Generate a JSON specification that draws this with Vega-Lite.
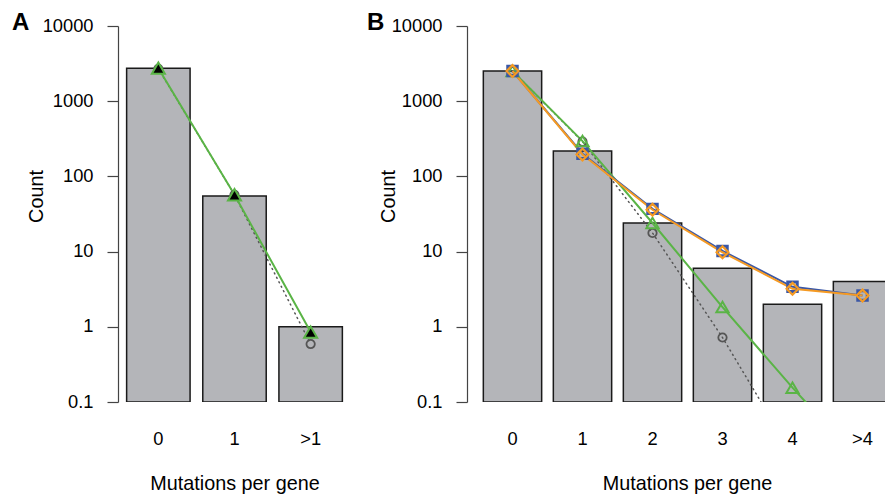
{
  "$schema": "https://vega.github.io/schema/vega-lite/v6.json",
  "background": "white",
  "padding": {"left": 12, "top": 11, "right": 0, "bottom": 0},
  "spacing": 16,
  "config": {
    "view": {"stroke": null},
    "font": "Liberation Sans",
    "axis": {"grid": false, "labelColor": "#000", "titleColor": "#000", "titleFontWeight": "normal", "labelFontSize": 18.3, "titleFontSize": 19.8, "labelFont": "Liberation Sans", "titleFont": "Liberation Sans"},
    "axisY": {"tickSize": 11, "domainColor": "#444", "tickColor": "#444", "domainWidth": 1.2, "tickWidth": 1.2, "labelPadding": 14, "titleY": 170, "titleBaseline": "alphabetic"},
    "axisX": {"domain": false, "ticks": false, "tickSize": 0, "labelAngle": 0, "labelPadding": 28, "titlePadding": 26},
    "title": {"font": "Liberation Sans", "fontSize": 24, "fontWeight": "bold", "anchor": "start", "frame": "group", "color": "#000"}
  },
  "datasets": {
    "barsA": [{"k": "0", "count": 2750}, {"k": "1", "count": 55}, {"k": ">1", "count": 1}],
    "fitA": [
      {"k": "0", "model": "circle", "value": 2700}, {"k": "1", "model": "circle", "value": 57}, {"k": ">1", "model": "circle", "value": 0.59},
      {"k": "0", "model": "tri", "value": 2750}, {"k": "1", "model": "tri", "value": 57}, {"k": ">1", "model": "tri", "value": 0.85}
    ],
    "barsB": [{"k": "0", "count": 2520}, {"k": "1", "count": 218}, {"k": "2", "count": 24}, {"k": "3", "count": 6}, {"k": "4", "count": 2}, {"k": ">4", "count": 4}],
    "fitB": [
      {"k": "0", "model": "circle", "value": 2520}, {"k": "1", "model": "circle", "value": 290}, {"k": "2", "model": "circle", "value": 17.7}, {"k": "3", "model": "circle", "value": 0.72}, {"k": "4", "model": "circle", "value": 0.02}, {"k": ">4", "model": "circle", "value": 0.0005},
      {"k": "0", "model": "tri", "value": 2520}, {"k": "1", "model": "tri", "value": 295}, {"k": "2", "model": "tri", "value": 24}, {"k": "3", "model": "tri", "value": 1.83}, {"k": "4", "model": "tri", "value": 0.155}, {"k": ">4", "model": "tri", "value": 0.015},
      {"k": "0", "model": "square", "value": 2520}, {"k": "1", "model": "square", "value": 200}, {"k": "2", "model": "square", "value": 37}, {"k": "3", "model": "square", "value": 10.2}, {"k": "4", "model": "square", "value": 3.4}, {"k": ">4", "model": "square", "value": 2.6},
      {"k": "0", "model": "diamond", "value": 2520}, {"k": "1", "model": "diamond", "value": 196}, {"k": "2", "model": "diamond", "value": 36}, {"k": "3", "model": "diamond", "value": 9.8}, {"k": "4", "model": "diamond", "value": 3.2}, {"k": ">4", "model": "diamond", "value": 2.6}
    ]
  },
  "hconcat": [
    {
      "width": 233,
      "height": 376,
      "title": {"text": "A", "dx": -106, "offset": -31, "baseline": "middle"},
      "encoding": {
        "x": {"field": "k", "type": "nominal", "sort": ["0", "1", ">1"], "scale": {"paddingInner": 0.1667, "paddingOuter": 0.1133}, "axis": {"title": "Mutations per gene"}},
        "y": {"type": "quantitative", "scale": {"type": "log", "domain": [0.1, 10000], "nice": false}, "axis": {"title": "Count", "values": [0.1, 1, 10, 100, 1000, 10000], "format": "~g", "titleX": -76}}
      },
      "layer": [
        {"data": {"name": "barsA"}, "mark": {"type": "bar", "fill": "#b4b5b9", "stroke": "#1a1a1a", "strokeWidth": 1.5, "clip": true},
         "encoding": {"y": {"field": "count"}, "y2": {"datum": 0.1}}},
        {"data": {"name": "fitA"}, "transform": [{"filter": "datum.model == 'circle'"}],
         "mark": {"type": "line", "color": "#555555", "strokeWidth": 1.5, "strokeDash": [1, 4], "strokeCap": "round", "clip": true},
         "encoding": {"y": {"field": "value"}}},
        {"data": {"name": "fitA"}, "transform": [{"filter": "datum.model == 'tri'"}],
         "mark": {"type": "line", "color": "#5ab446", "strokeWidth": 2, "clip": true},
         "encoding": {"y": {"field": "value"}}},
        {"data": {"name": "fitA"}, "transform": [{"filter": "datum.model == 'circle'"}],
         "mark": {"type": "point", "shape": "circle", "filled": false, "stroke": "#555555", "strokeWidth": 1.8, "size": 70, "opacity": 1, "clip": true},
         "encoding": {"y": {"field": "value"}}},
        {"data": {"name": "fitA"}, "transform": [{"filter": "datum.model == 'tri'"}],
         "mark": {"type": "point", "shape": "triangle-up", "filled": true, "fill": "#000000", "stroke": "#5ab446", "strokeWidth": 2, "size": 170, "opacity": 1, "clip": true},
         "encoding": {"y": {"field": "value"}}}
      ]
    },
    {
      "width": 419,
      "height": 376,
      "title": {"text": "B", "dx": -100, "offset": -31, "baseline": "middle"},
      "encoding": {
        "x": {"field": "k", "type": "nominal", "sort": ["0", "1", "2", "3", "4", ">4"], "scale": {"paddingInner": 0.1667, "paddingOuter": 0.2333, "range": [0, 441]}, "axis": {"title": "Mutations per gene", "titleX": 220}},
        "y": {"type": "quantitative", "scale": {"type": "log", "domain": [0.1, 10000], "nice": false}, "axis": {"title": "Count", "values": [0.1, 1, 10, 100, 1000, 10000], "format": "~g", "titleX": -73}}
      },
      "layer": [
        {"data": {"name": "barsB"}, "mark": {"type": "bar", "fill": "#b4b5b9", "stroke": "#1a1a1a", "strokeWidth": 1.5, "clip": true},
         "encoding": {"y": {"field": "count"}, "y2": {"datum": 0.1}}},
        {"data": {"name": "fitB"}, "transform": [{"filter": "datum.model == 'circle'"}],
         "mark": {"type": "line", "color": "#555555", "strokeWidth": 1.5, "strokeDash": [1, 4], "strokeCap": "round", "clip": true},
         "encoding": {"y": {"field": "value"}}},
        {"data": {"name": "fitB"}, "transform": [{"filter": "datum.model == 'tri'"}],
         "mark": {"type": "line", "color": "#5ab446", "strokeWidth": 2, "clip": true},
         "encoding": {"y": {"field": "value"}}},
        {"data": {"name": "fitB"}, "transform": [{"filter": "datum.model == 'square'"}],
         "mark": {"type": "line", "color": "#3a57a6", "strokeWidth": 2, "clip": true},
         "encoding": {"y": {"field": "value"}}},
        {"data": {"name": "fitB"}, "transform": [{"filter": "datum.model == 'diamond'"}],
         "mark": {"type": "line", "color": "#f59a23", "strokeWidth": 2, "clip": true},
         "encoding": {"y": {"field": "value"}}},
        {"data": {"name": "fitB"}, "transform": [{"filter": "datum.model == 'circle'"}],
         "mark": {"type": "point", "shape": "circle", "filled": false, "stroke": "#555555", "strokeWidth": 1.8, "size": 70, "opacity": 1, "clip": true},
         "encoding": {"y": {"field": "value"}}},
        {"data": {"name": "fitB"}, "transform": [{"filter": "datum.model == 'tri'"}],
         "mark": {"type": "point", "shape": "triangle-up", "filled": false, "stroke": "#5ab446", "strokeWidth": 2, "size": 150, "opacity": 1, "clip": true},
         "encoding": {"y": {"field": "value"}}},
        {"data": {"name": "fitB"}, "transform": [{"filter": "datum.model == 'square'"}],
         "mark": {"type": "point", "shape": "square", "filled": false, "stroke": "#3a57a6", "strokeWidth": 3, "size": 90, "opacity": 1, "clip": true},
         "encoding": {"y": {"field": "value"}}},
        {"data": {"name": "fitB"}, "transform": [{"filter": "datum.model == 'diamond'"}],
         "mark": {"type": "point", "shape": "diamond", "filled": false, "stroke": "#f59a23", "strokeWidth": 2.2, "size": 140, "opacity": 1, "clip": true},
         "encoding": {"y": {"field": "value"}}}
      ]
    }
  ]
}
